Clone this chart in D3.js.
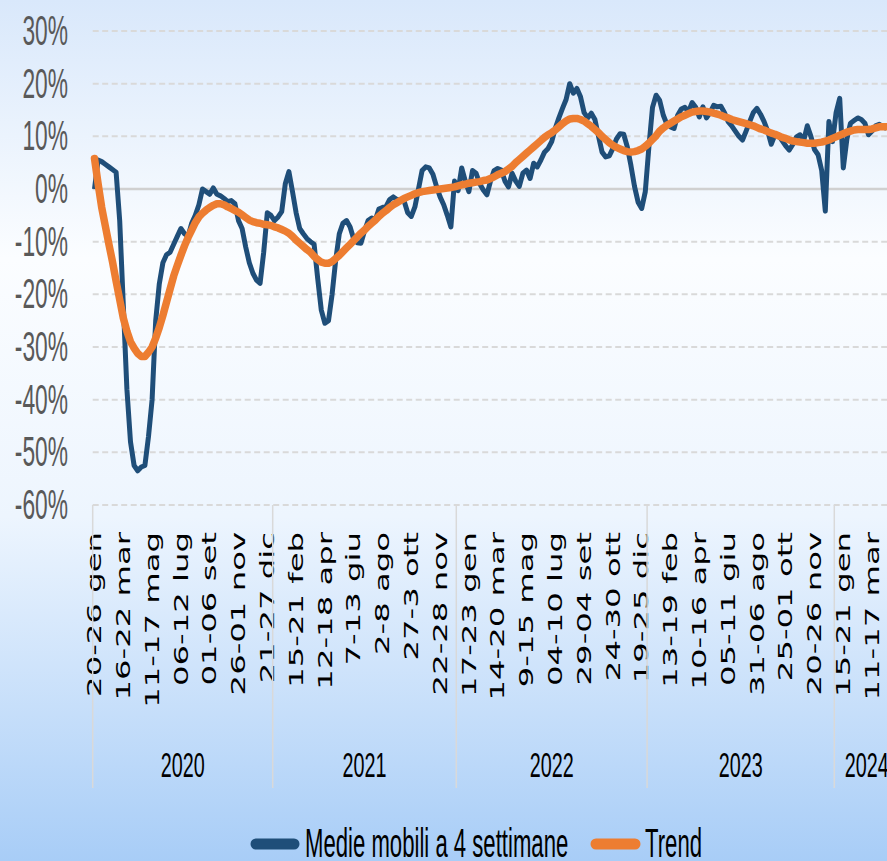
<!DOCTYPE html>
<html>
<head>
<meta charset="utf-8">
<script src="https://cdn.jsdelivr.net/npm/d3@7"></script>
<style>
  body { margin: 0; }
  svg { display: block; }
</style>
</head>
<body>
<script>
// weekly series, from 20-26 gen 2020 (values in %)
const medieMobili = [
    0, 5.5, 5.2, 4.7, 4.2, 3.7, 3.2, -6, -22, -38,
    -48, -52.5, -53.5, -52.8, -52.5, -47, -40, -25, -18, -14,
    -12.5, -12, -10.5, -9, -7.5, -8.5, -9, -6.5, -5, -3,
    0, -0.5, -1, 0.2, -1, -1.3, -1.8, -2.4, -2.2, -2.8,
    -6, -7.5, -11, -14, -16, -17.3, -17.9, -12, -4.5, -5,
    -6, -5.3, -4.3, 1, 3.3, -0.5, -4.5, -7.5, -8.5, -9.4,
    -10, -10.5, -17, -23, -25.5, -25, -20, -13.5, -8.5, -6.5,
    -6, -7.2, -9.5, -10.2, -10.3, -8, -6, -5.5, -5.9, -3.8,
    -3.5, -3.3, -2, -1.5, -2, -2.1, -2.3, -4.5, -5.2, -3.4,
    0, 3.5, 4.2, 4, 2.8, 0.5, -1.5, -3, -5, -7.2,
    1.5, -0.3, 4, 1.5, -0.5, 3.5, 3, 1, -0.2, -1.1,
    1.5, 3.5, 3.9, 3.6, 1.5, 0.4, 3, 1.5, 0.5, 3,
    3.6, 2, 4.9, 4.2, 5.5, 7, 7.7, 9, 11.5, 13.5,
    15.3, 17, 20, 18.2, 19.1, 17.5, 14.5, 13.5, 14.4, 13.2,
    10, 7, 6.1, 6.3, 7.7, 9.5, 10.5, 10.4, 8, 4.5,
    0.5, -2.5, -3.7, -0.5, 8, 15.5, 17.8, 16.8, 14, 12.3,
    11.8, 11.5, 14, 15.2, 15.5, 14.7, 16.4, 15.5, 13.7, 15.6,
    13.5, 14.5, 15.9, 15.6, 15.7, 14.5, 12.8, 12, 11, 10,
    9.3, 11, 12.8, 14.5, 15.3, 14.2, 12.8, 11, 8.5, 10.3,
    10.2, 9.2, 8.2, 7.4, 8.5, 9.9, 10.3, 9.2, 12, 10,
    7.5, 6.5, 3.5, -4.2, 12.8, 9, 14.5, 17.2, 4, 9.5,
    12.5, 13, 13.5, 13.2, 12.5, 10.3, 11, 12, 12.3, 11.8, 11.5
];

const trend = [
    5.8, 1, -3.5, -7, -10.5, -13.8, -17.5, -21, -24.5, -27,
    -29, -30.2, -31.2, -31.8, -31.8, -31, -30, -28.3, -26.3, -24,
    -21.5, -19, -16.5, -14.5, -12.6, -10.8, -9.2, -7.8, -6.4, -5.3,
    -4.6, -4, -3.5, -3.1, -2.8, -2.8, -3, -3.4, -3.7, -4.1,
    -4.4, -4.9, -5.4, -5.9, -6.2, -6.4, -6.5, -6.7, -6.8, -6.9,
    -7.2, -7.4, -7.7, -8, -8.4, -9, -9.7, -10.3, -10.9, -11.5,
    -12, -12.8, -13.4, -13.9, -14.1, -14.1, -13.8, -13.2, -12.6, -11.9,
    -11.2, -10.5, -9.8, -9.1, -8.4, -7.8, -7.1, -6.5, -5.9, -5.2,
    -4.6, -4.1, -3.5, -3, -2.6, -2.2, -1.8, -1.5, -1.2, -0.9,
    -0.7, -0.5, -0.4, -0.3, -0.2, -0.1, 0, 0.1, 0.2, 0.3,
    0.4, 0.6, 0.8, 0.9, 1.1, 1.2, 1.3, 1.4, 1.6, 1.7,
    2, 2.3, 2.7, 3, 3.3, 3.8, 4.3, 5, 5.6, 6.2,
    6.8, 7.4, 8, 8.6, 9.2, 9.8, 10.3, 10.7, 11.2, 11.8,
    12.4, 12.9, 13.3, 13.4, 13.4, 13.2, 12.9, 12.4, 11.9, 11.3,
    10.7, 10, 9.4, 8.8, 8.3, 7.9, 7.6, 7.3, 7.1, 7,
    7.1, 7.3, 7.6, 8.1, 8.7, 9.4, 10.1, 11, 11.6, 12.1,
    12.5, 12.9, 13.3, 13.7, 14, 14.3, 14.6, 14.7, 14.8, 14.8,
    14.7, 14.6, 14.4, 14.2, 14, 13.7, 13.5, 13.2, 13, 12.8,
    12.6, 12.4, 12.2, 12, 11.7, 11.4, 11.2, 10.9, 10.6, 10.4,
    10.1, 9.8, 9.6, 9.3, 9.1, 9, 8.9, 8.8, 8.7, 8.7,
    8.7, 8.8, 8.9, 9.1, 9.3, 9.6, 9.9, 10.2, 10.5, 10.8,
    11, 11.2, 11.3, 11.3, 11.3, 11.3, 11.4, 11.6, 11.8, 11.8, 11.8
];

// one label every 8 weeks
const tickLabels = [
    '20-26 gen', '16-22 mar', '11-17 mag', '06-12 lug', '01-06 set', '26-01 nov', '21-27 dic',
    '15-21 feb', '12-18 apr', '7-13 giu', '2-8 ago', '27-3 ott', '22-28 nov',
    '17-23 gen', '14-20 mar', '9-15 mag', '04-10 lug', '29-04 set', '24-30 ott', '19-25 dic',
    '13-19 feb', '10-16 apr', '05-11 giu', '31-06 ago', '25-01 ott', '20-26 nov',
    '15-21 gen', '11-17 mar'
];

const years = ['2020', '2021', '2022', '2023', '2024'];
const yearWeeks = [50, 51, 53, 52, 18];
const yTicks = [30, 20, 10, 0, -10, -20, -30, -40, -50, -60];

const width = 887, height = 861;
const plot = {left: 92.7, top: 31, bottom: 505, step: 3.6};
const nWeeks = d3.sum(yearWeeks);

const svg = d3.select('body').append('svg')
    .attr('width', width)
    .attr('height', height);

// background gradient
const grad = svg.append('defs').append('linearGradient')
    .attr('id', 'bg')
    .attr('x1', 0).attr('y1', 0).attr('x2', 0).attr('y2', 1);
[[0, '#d9e8fb'], [0.3, '#fbfdff'], [0.6, '#edf5fe'], [1, '#a8cdf7']].forEach(s => {
    grad.append('stop').attr('offset', s[0]).attr('stop-color', s[1]);
});
svg.append('rect')
    .attr('width', width)
    .attr('height', height)
    .attr('fill', 'url(#bg)');

// scales
const xScale = d3.scaleBand()
    .domain(d3.range(nWeeks))
    .range([plot.left, plot.left + nWeeks * plot.step]);

const yScale = d3.scaleLinear()
    .domain([-60, 30])
    .range([plot.bottom, plot.top]);

// gridlines
svg.append('g').selectAll('line')
    .data(yTicks)
    .enter()
    .append('line')
        .attr('x1', plot.left)
        .attr('x2', width)
        .attr('y1', d => yScale(d))
        .attr('y2', d => yScale(d))
        .attr('stroke', d => d === 0 ? '#d0d0d0' : '#d9d9d9')
        .attr('stroke-width', d => d === 0 ? 2.5 : 2)
        .attr('stroke-dasharray', d => d === 0 ? null : '6,3.5');

// y labels
svg.append('g').selectAll('text')
    .data(yTicks)
    .enter()
    .append('text')
        .attr('transform', d => `translate(68, ${yScale(d) + 14}) scale(0.53, 1)`)
        .attr('text-anchor', 'end')
        .attr('font-family', 'Liberation Sans')
        .attr('font-size', '43px')
        .attr('fill', '#595959')
        .text(d => d + '%');

// x axis (week labels)
const xAxis = d3.axisBottom(xScale)
    .tickValues(d3.range(0, nWeeks, 8).filter(i => i / 8 < tickLabels.length))
    .tickFormat(i => tickLabels[i / 8])
    .tickSize(0);

const xAxisGroup = svg.append('g')
    .attr('transform', `translate(0, ${plot.bottom})`)
    .call(xAxis)
    .attr('font-family', 'DejaVu Sans')
    .attr('font-size', 19);

xAxisGroup.select('.domain').remove();
xAxisGroup.selectAll('text')
    .attr('x', 0)
    .attr('y', 0)
    .attr('dy', '0.35em')
    .attr('fill', '#000')
    .attr('text-anchor', 'end')
    .attr('transform', 'translate(0, 27) rotate(-90) scale(1.7, 1)');

// year groups
let cum = 0;
const bounds = [plot.left];
yearWeeks.forEach(w => { cum += w; bounds.push(plot.left + cum * xScale.step()); });

svg.append('g').selectAll('line')
    .data(bounds)
    .enter()
    .append('line')
        .attr('x1', d => d).attr('x2', d => d)
        .attr('y1', plot.bottom).attr('y2', 788)
        .attr('stroke', '#d9d9d9')
        .attr('stroke-width', 1.5);

svg.append('g').selectAll('text')
    .data(years)
    .enter()
    .append('text')
        .attr('transform', (d, i) => `translate(${(bounds[i] + bounds[i + 1]) / 2}, 777) scale(0.565, 1)`)
        .attr('text-anchor', 'middle')
        .attr('font-family', 'Liberation Sans')
        .attr('font-size', '35px')
        .attr('fill', '#000')
        .text(d => d);

// lines
const line = d3.line()
    .x((d, i) => xScale(i) + xScale.bandwidth() / 2)
    .y(d => yScale(d));

svg.append('path')
    .datum(medieMobili)
    .attr('d', line)
    .attr('fill', 'none')
    .attr('stroke', '#1f4e79')
    .attr('stroke-width', 5)
    .attr('stroke-linejoin', 'round');

svg.append('path')
    .datum(trend)
    .attr('d', line)
    .attr('fill', 'none')
    .attr('stroke', '#ed7d31')
    .attr('stroke-width', 7.5)
    .attr('stroke-linejoin', 'round')
    .attr('stroke-linecap', 'round');

// legend
const legend = [
    {name: 'Medie mobili a 4 settimane', color: '#1f4e79', x1: 256, x2: 294, tx: 305},
    {name: 'Trend', color: '#ed7d31', x1: 596, x2: 635, tx: 645}
];

legend.forEach(d => {
    svg.append('line')
        .attr('x1', d.x1).attr('x2', d.x2)
        .attr('y1', 844).attr('y2', 844)
        .attr('stroke', d.color)
        .attr('stroke-width', 11)
        .attr('stroke-linecap', 'round');
    svg.append('text')
        .attr('transform', `translate(${d.tx}, 857) scale(0.54, 1)`)
        .attr('font-family', 'Liberation Sans')
        .attr('font-size', '41px')
        .attr('fill', '#000')
        .text(d.name);
});
</script>
</body>
</html>
